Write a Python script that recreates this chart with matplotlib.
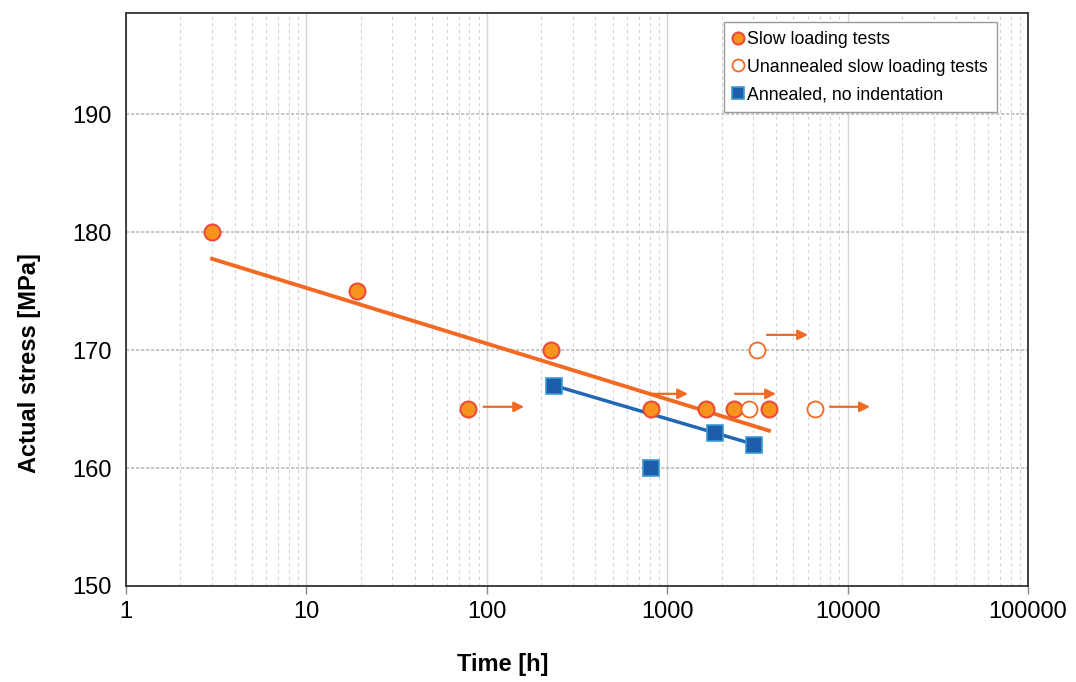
import numpy as np
import matplotlib
matplotlib.use("Agg")
import matplotlib.pyplot as plt
from matplotlib.ticker import LogLocator, FixedLocator, NullFormatter

plt.rcParams['font.family'] = ['Liberation Sans', 'DejaVu Sans']

# Slow loading tests (filled orange circles)
slow_t = [3, 19, 227, 79, 813, 1641, 2345, 3665]
slow_s = [180, 175, 170, 165, 165, 165, 165, 165]
# Unannealed slow loading tests (open circles)
unann_t = [2843, 3142, 6600]
unann_s = [165, 170, 165]
# Annealed, no indentation (blue squares)
ann_t = [236, 813, 1841, 3026]
ann_s = [167, 160, 163, 162]
ann_fit_idx = [0, 2, 3]  # points used for the blue trend line

# Run-out arrows (start time, end time, stress level)
arrow_t0 = [96, 824, 2376, 3574, 7985]
arrow_t1 = [161, 1304, 4010, 6030, 13300]
arrow_s = [165.2, 166.3, 166.3, 171.3, 165.2]

x_ticks = [1, 10, 100, 1000, 10000, 100000]
x_ticklabels = ['1', '10', '100', '1000', '10000', '100000']
y_ticks = [150, 160, 170, 180, 190]

ORANGE = '#F26A22'
ORANGE_FILL = '#F7941D'
RED_EDGE = '#EC4B3A'
BLUE = '#1C5EAA'
BLUE_EDGE = '#3A9AD6'
BLUE_LINE = '#2068B4'

fig = plt.figure(figsize=(10.76, 6.82), dpi=100)
ax = fig.add_axes([126/1076, 1-586/682, (1028-126)/1076, (586-13)/682])
ax.set_xscale('log')
ax.set_xlim(1, 100000)
ax.set_ylim(150, 198.6)

# grid
ax.xaxis.set_major_locator(FixedLocator(x_ticks))
ax.xaxis.set_minor_locator(LogLocator(base=10, subs=np.arange(2, 10)))
ax.xaxis.set_minor_formatter(NullFormatter())
ax.set_xticklabels(x_ticklabels)
ax.set_yticks(y_ticks)
ax.grid(which='major', axis='x', color='#d4d4d4', lw=1.0, ls='-')
ax.grid(which='minor', axis='x', color='#d4d4d4', lw=0.8, ls=(0, (3, 3)))
ax.grid(which='major', axis='y', color='#bdbdbd', lw=1.2, ls=(0, (2, 1)))
ax.set_axisbelow(True)

# trend lines (log fits)
ls_ = np.log10(slow_t)
a, b = np.polyfit(ls_, slow_s, 1)
xs = np.logspace(np.log10(min(slow_t)), np.log10(max(slow_t)), 50)
ax.plot(xs, a*np.log10(xs)+b, color=ORANGE, lw=2.8, zorder=3)

at = np.array(ann_t)[ann_fit_idx]
asv = np.array(ann_s)[ann_fit_idx]
a2, b2 = np.polyfit(np.log10(at), asv, 1)
xb = np.logspace(np.log10(at.min()), np.log10(at.max()), 50)
ax.plot(xb, a2*np.log10(xb)+b2, color=BLUE_LINE, lw=2.5, zorder=3)

# arrows
for t0, t1, s in zip(arrow_t0, arrow_t1, arrow_s):
    ax.annotate('', xy=(t1, s), xytext=(t0, s),
                arrowprops=dict(arrowstyle='-|>', color=ORANGE, lw=1.6,
                                mutation_scale=15, shrinkA=0, shrinkB=0),
                zorder=4)

# markers
ax.plot(slow_t, slow_s, 'o', ms=11.5, mfc=ORANGE_FILL, mec=RED_EDGE, mew=1.5,
        ls='none', zorder=5, label='Slow loading tests')
ax.plot(unann_t, unann_s, 'o', ms=11.5, mfc='white', mec=ORANGE, mew=1.3,
        ls='none', zorder=5, label='Unannealed slow loading tests')
ax.plot(ann_t, ann_s, 's', ms=11.5, mfc=BLUE, mec=BLUE_EDGE, mew=1.2,
        ls='none', zorder=5, label='Annealed, no indentation')

for sp in ax.spines.values():
    sp.set_color('#333333')
    sp.set_linewidth(1.3)

ax.tick_params(axis='x', which='major', direction='out', length=6, width=1,
               color='#888888', labelsize=17, pad=5)
ax.tick_params(axis='x', which='minor', length=0)
ax.tick_params(axis='y', which='major', length=0, labelsize=17, pad=10)

ax.set_xlabel('Time [h]', fontsize=17, fontweight='bold')
ax.xaxis.label.set_va('center')
ax.xaxis.set_label_coords((503-126)/902, (586-665)/573)
ax.set_ylabel('Actual stress [MPa]', fontsize=17, fontweight='bold')
ax.yaxis.label.set_va('center')
ax.yaxis.set_label_coords((30-126)/902, (586-363)/573)

leg = ax.legend(loc='upper right', bbox_to_anchor=(997/1076, 1-22/682),
                bbox_transform=fig.transFigure, borderaxespad=0,
                fontsize=12.8, handlelength=0.6,
                handletextpad=0.2, markerscale=0.75, borderpad=0.5,
                labelspacing=0.6, fancybox=False, framealpha=1,
                edgecolor='#999999')
leg.get_frame().set_linewidth(1.0)

fig.savefig('out.png', dpi=100)
